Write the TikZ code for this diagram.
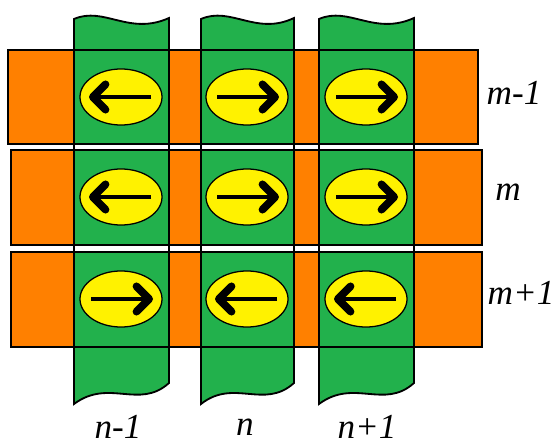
\documentclass[tikz,border=0pt]{standalone}
\usepackage{fontspec}
\setmainfont{Liberation Serif}
\usetikzlibrary{arrows.meta,shapes.geometric,calc}
\definecolor{stripgreen}{HTML}{22B14C}
\definecolor{striporange}{HTML}{FF8000}
\definecolor{dotyellow}{HTML}{FFF200}
\begin{document}
\begin{tikzpicture}[x=0.025cm,y=-0.025cm,line width=1.3pt,
  cell/.style={ellipse,draw=black,line width=0.9pt,fill=dotyellow,
    minimum width=2.05cm,minimum height=1.4cm,inner sep=0pt},
  spin/.style={line width=2.2pt,
    -{Straight Barb[length=9pt,width=18pt,line width=5.5pt,round]}},
  every node/.style={font=\fontsize{25}{28}\selectfont\itshape}]
 \path[use as bounding box] (0,0) rectangle (559,446);
 % green strips with torn ends
 \foreach \l/\r in {74/169,201/294,319/414}
  \filldraw[fill=stripgreen] (\l,19) .. controls (\l+30,6) and (\l+55,36) .. (\r,18)
   -- (\r,383) .. controls (\r-30,410) and (\r-60,378) .. (\l,404) -- cycle;
 \fill[white] (0,144) rectangle (559,150) (0,245) rectangle (559,252);
 % orange strips, crossings stay green
 \foreach \t/\b/\l/\r in {50/144/8/478,150/245/11/482,252/347/11/482}{
  \fill[striporange] (\l,\t) rectangle (\r,\b);
  \foreach \cl/\cr in {74/169,201/294,319/414}
   \fill[stripgreen] (\cl,\t) rectangle (\cr,\b);
 }
 \foreach \l/\r in {74/169,201/294,319/414}
  \draw (\l,19) -- (\l,404) (\r,18) -- (\r,383);
 \foreach \t/\b/\l/\r in {50/144/8/478,150/245/11/482,252/347/11/482}
  \draw (\l,\t) rectangle (\r,\b);
 % cells and their spins
 \foreach \y/\a/\b/\c [count=\i] in {97/-1/1/1,197/-1/1/1,299/1/-1/-1}
  \foreach \x/\d [count=\j] in {121/\a,247/\b,366/\c}{
   \node[cell] (c\i\j) at (\x,\y) {};
   \draw[spin] ($(c\i\j)-(\d*30,0)$) -- ($(c\i\j)+(\d*32,0)$);
  }
 \node (row1) at (514,93) {m-1};
 \node (row2) at (508,192) {m};
 \node (row3) at (521,293) {m+1};
 \node (col1) at (118,427) {n-1};
 \node (col2) at (245,427) {n};
 \node (col3) at (367,427) {n+1};
\end{tikzpicture}
\end{document}
